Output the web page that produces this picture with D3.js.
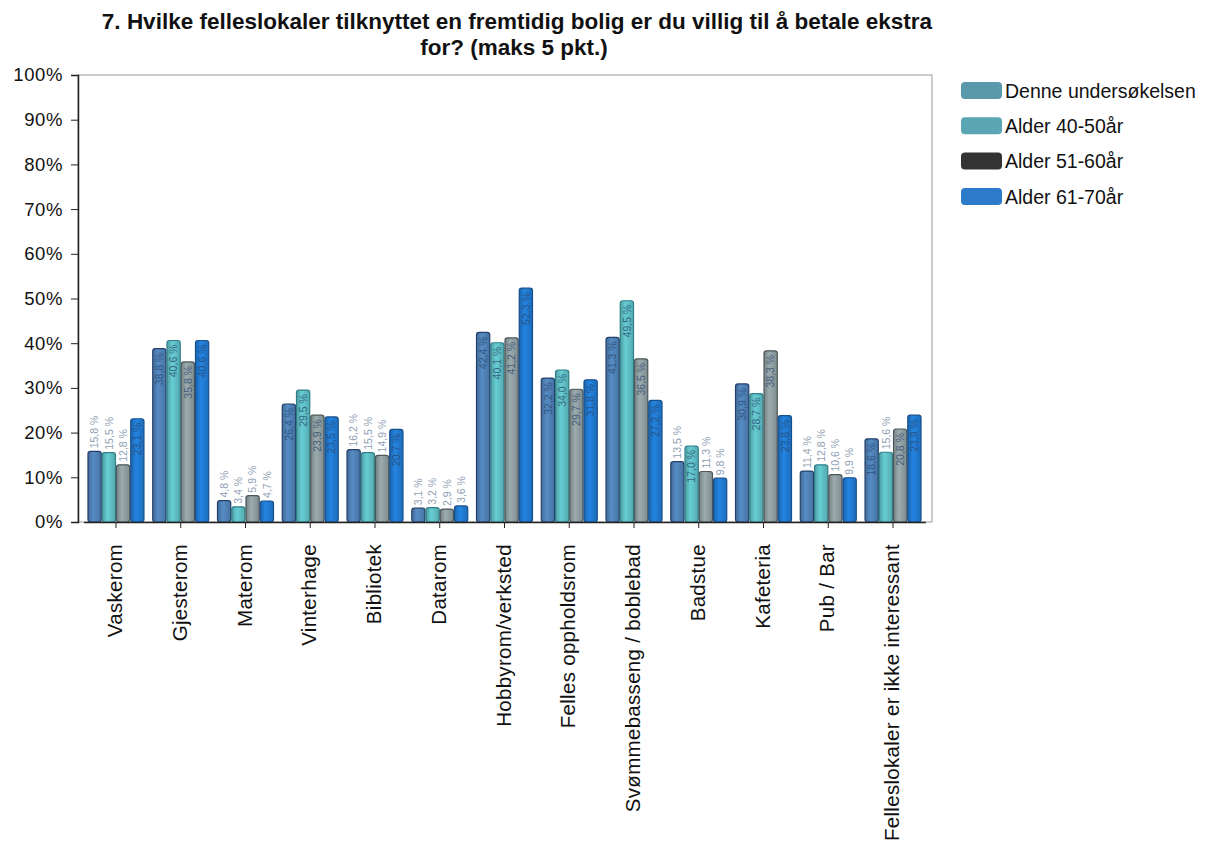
<!DOCTYPE html>
<html>
<head>
<meta charset="utf-8">
<script src="https://cdn.jsdelivr.net/npm/d3@7/dist/d3.min.js"></script>
<style>
  html, body { margin: 0; padding: 0; background: #fff; }
  svg { display: block; font-family: "Liberation Sans", Arial, sans-serif; }
</style>
</head>
<body>
<svg id="chart" width="1220" height="850"></svg>
<script>
// Categories (shared rooms) and survey series
const categories = [
  "Vaskerom", "Gjesterom", "Materom", "Vinterhage", "Bibliotek", "Datarom",
  "Hobbyrom/verksted", "Felles oppholdsrom", "Svømmebasseng / boblebad",
  "Badstue", "Kafeteria", "Pub / Bar", "Felleslokaler er ikke interessant"
];
const seriesNames = ["Denne undersøkelsen", "Alder 40-50år", "Alder 51-60år", "Alder 61-70år"];

// Percent of respondents per category, one array per series
const denneUndersokelsen = [15.8, 38.8, 4.8, 26.4, 16.2, 3.1, 42.4, 32.2, 41.3, 13.5, 30.9, 11.4, 18.6];
const alder40_50        = [15.5, 40.6, 3.4, 29.5, 15.5, 3.2, 40.1, 34.0, 49.5, 17.0, 28.7, 12.8, 15.6];
const alder51_60        = [12.8, 35.8, 5.9, 23.9, 14.9, 2.9, 41.2, 29.7, 36.5, 11.3, 38.3, 10.6, 20.8];
const alder61_70        = [23.1, 40.6, 4.7, 23.5, 20.7, 3.6, 52.3, 31.8, 27.2,  9.8, 23.8,  9.9, 23.9];

const yTicks = [0, 10, 20, 30, 40, 50, 60, 70, 80, 90, 100];

const barColors    = ["#4f80b4", "#5dbcc2", "#8e9c9f", "#2079cf"];
const barEdges     = ["#24406a", "#2f7f88", "#4d5659", "#174f8c"];
const legendColors = ["#5a98ab", "#5ba6b4", "#333333", "#2b7bc9"];

const seriesValues = [denneUndersokelsen, alder40_50, alder51_60, alder61_70];

const svg = d3.select("#chart");

// Plot frame
const frame = { left: 78, right: 932, top: 75, bottom: 522 };

const x0 = d3.scaleBand()
  .domain(categories)
  .range([83.6, 925.4])
  .paddingInner(0.12)
  .paddingOuter(0.06);

const x1 = d3.scaleBand()
  .domain(d3.range(seriesNames.length))
  .range([0, x0.bandwidth()])
  .padding(0);

const y = d3.scaleLinear().domain([0, 100]).range([frame.bottom, frame.top]);

// Horizontal gradients give the bars a rounded, tube-like shading
const defs = svg.append("defs");
barColors.forEach((c, i) => {
  const g = defs.append("linearGradient")
    .attr("id", "grad" + i)
    .attr("x1", "0%").attr("x2", "100%").attr("y1", "0%").attr("y2", "0%");
  const base = d3.color(c);
  g.append("stop").attr("offset", "0%").attr("stop-color", base.darker(0.5));
  g.append("stop").attr("offset", "40%").attr("stop-color", base.brighter(0.25));
  g.append("stop").attr("offset", "100%").attr("stop-color", base.darker(0.3));
});

// Plot area border
svg.append("rect")
  .attr("x", frame.left).attr("y", frame.top)
  .attr("width", frame.right - frame.left)
  .attr("height", frame.bottom - frame.top)
  .attr("fill", "#fff")
  .attr("stroke", "#9a9a9a")
  .attr("stroke-width", 1);

// Title
const title = svg.append("text")
  .attr("text-anchor", "middle")
  .attr("font-size", 22.5)
  .attr("font-weight", "bold")
  .attr("fill", "#111");
title.append("tspan").attr("x", 517).attr("y", 29)
  .text("7. Hvilke felleslokaler tilknyttet en fremtidig bolig er du villig til å betale ekstra");
title.append("tspan").attr("x", 514).attr("y", 55)
  .text("for? (maks 5 pkt.)");

// Bars
const fmt = d => d3.format(".1f")(d).replace(".", ",") + " %";

const rows = categories.map((c, ci) => ({
  category: c,
  values: seriesValues.map((s, si) => ({ series: si, value: s[ci] }))
}));

const groups = svg.append("g").selectAll("g")
  .data(rows)
  .join("g")
  .attr("transform", d => `translate(${x0(d.category)},0)`);

groups.selectAll("rect")
  .data(d => d.values)
  .join("rect")
  .attr("x", d => x1(d.series) + 0.5)
  .attr("y", d => y(d.value))
  .attr("width", x1.bandwidth() - 1)
  .attr("height", d => y(0) - y(d.value))
  .attr("rx", 2.5)
  .attr("fill", d => `url(#grad${d.series})`)
  .attr("stroke", d => barEdges[d.series])
  .attr("stroke-width", 1.2);

// Value labels, rotated; inside the bar top for taller bars, above otherwise
groups.selectAll("text.val")
  .data(d => d.values)
  .join("text")
  .attr("class", "val")
  .attr("font-size", 10.5)
  .attr("transform", d => {
    const cx = x1(d.series) + x1.bandwidth() / 2 + 3.8;
    const inside = d.value >= 17;
    const yy = inside ? y(d.value) + 4 : y(d.value) - 3;
    return `translate(${cx},${yy}) rotate(-90)`;
  })
  .attr("text-anchor", d => d.value >= 17 ? "end" : "start")
  .attr("fill", d => d.value >= 17 ? "#29476e" : "#8ea0b4")
  .attr("opacity", d => d.value >= 17 ? 0.75 : 1)
  .text(d => fmt(d.value));

// Y axis
const yAxis = svg.append("g")
  .attr("transform", `translate(${frame.left},0)`)
  .call(d3.axisLeft(y).tickValues(yTicks).tickFormat(d => d + "%").tickSize(7).tickPadding(8));
yAxis.select(".domain").attr("stroke", "#222").attr("stroke-width", 1.5);
yAxis.selectAll(".tick line").attr("stroke", "#222");
yAxis.selectAll(".tick text")
  .attr("font-size", 18.5)
  .attr("letter-spacing", 0.6)
  .attr("font-family", "'Liberation Sans', Arial, sans-serif")
  .attr("fill", "#111");

// X axis
const xAxis = svg.append("g")
  .attr("transform", `translate(0,${frame.bottom})`)
  .call(d3.axisBottom(x0).tickSize(6).tickSizeOuter(0));
xAxis.select(".domain").attr("stroke", "#222").attr("stroke-width", 1.5);
xAxis.selectAll(".tick line").attr("stroke", "#222");
xAxis.selectAll(".tick text")
  .attr("font-size", 20.5)
  .attr("letter-spacing", 0.3)
  .attr("font-family", "'Liberation Sans', Arial, sans-serif")
  .attr("fill", "#111")
  .attr("text-anchor", "end")
  .attr("transform", "rotate(-90)")
  .attr("x", -22)
  .attr("y", -1)
  .attr("dy", "0.35em");

// Legend
const legend = svg.append("g").attr("transform", "translate(961,82)");
const li = legend.selectAll("g")
  .data(seriesNames)
  .join("g")
  .attr("transform", (d, i) => `translate(0,${i * 35.3})`);
li.append("rect")
  .attr("width", 41).attr("height", 17).attr("rx", 4)
  .attr("fill", (d, i) => legendColors[i]);
li.append("text")
  .attr("x", 44).attr("y", 9).attr("dy", "0.35em")
  .attr("font-size", 19.5)
  .attr("fill", "#111")
  .text(d => d);
</script>
</body>
</html>
